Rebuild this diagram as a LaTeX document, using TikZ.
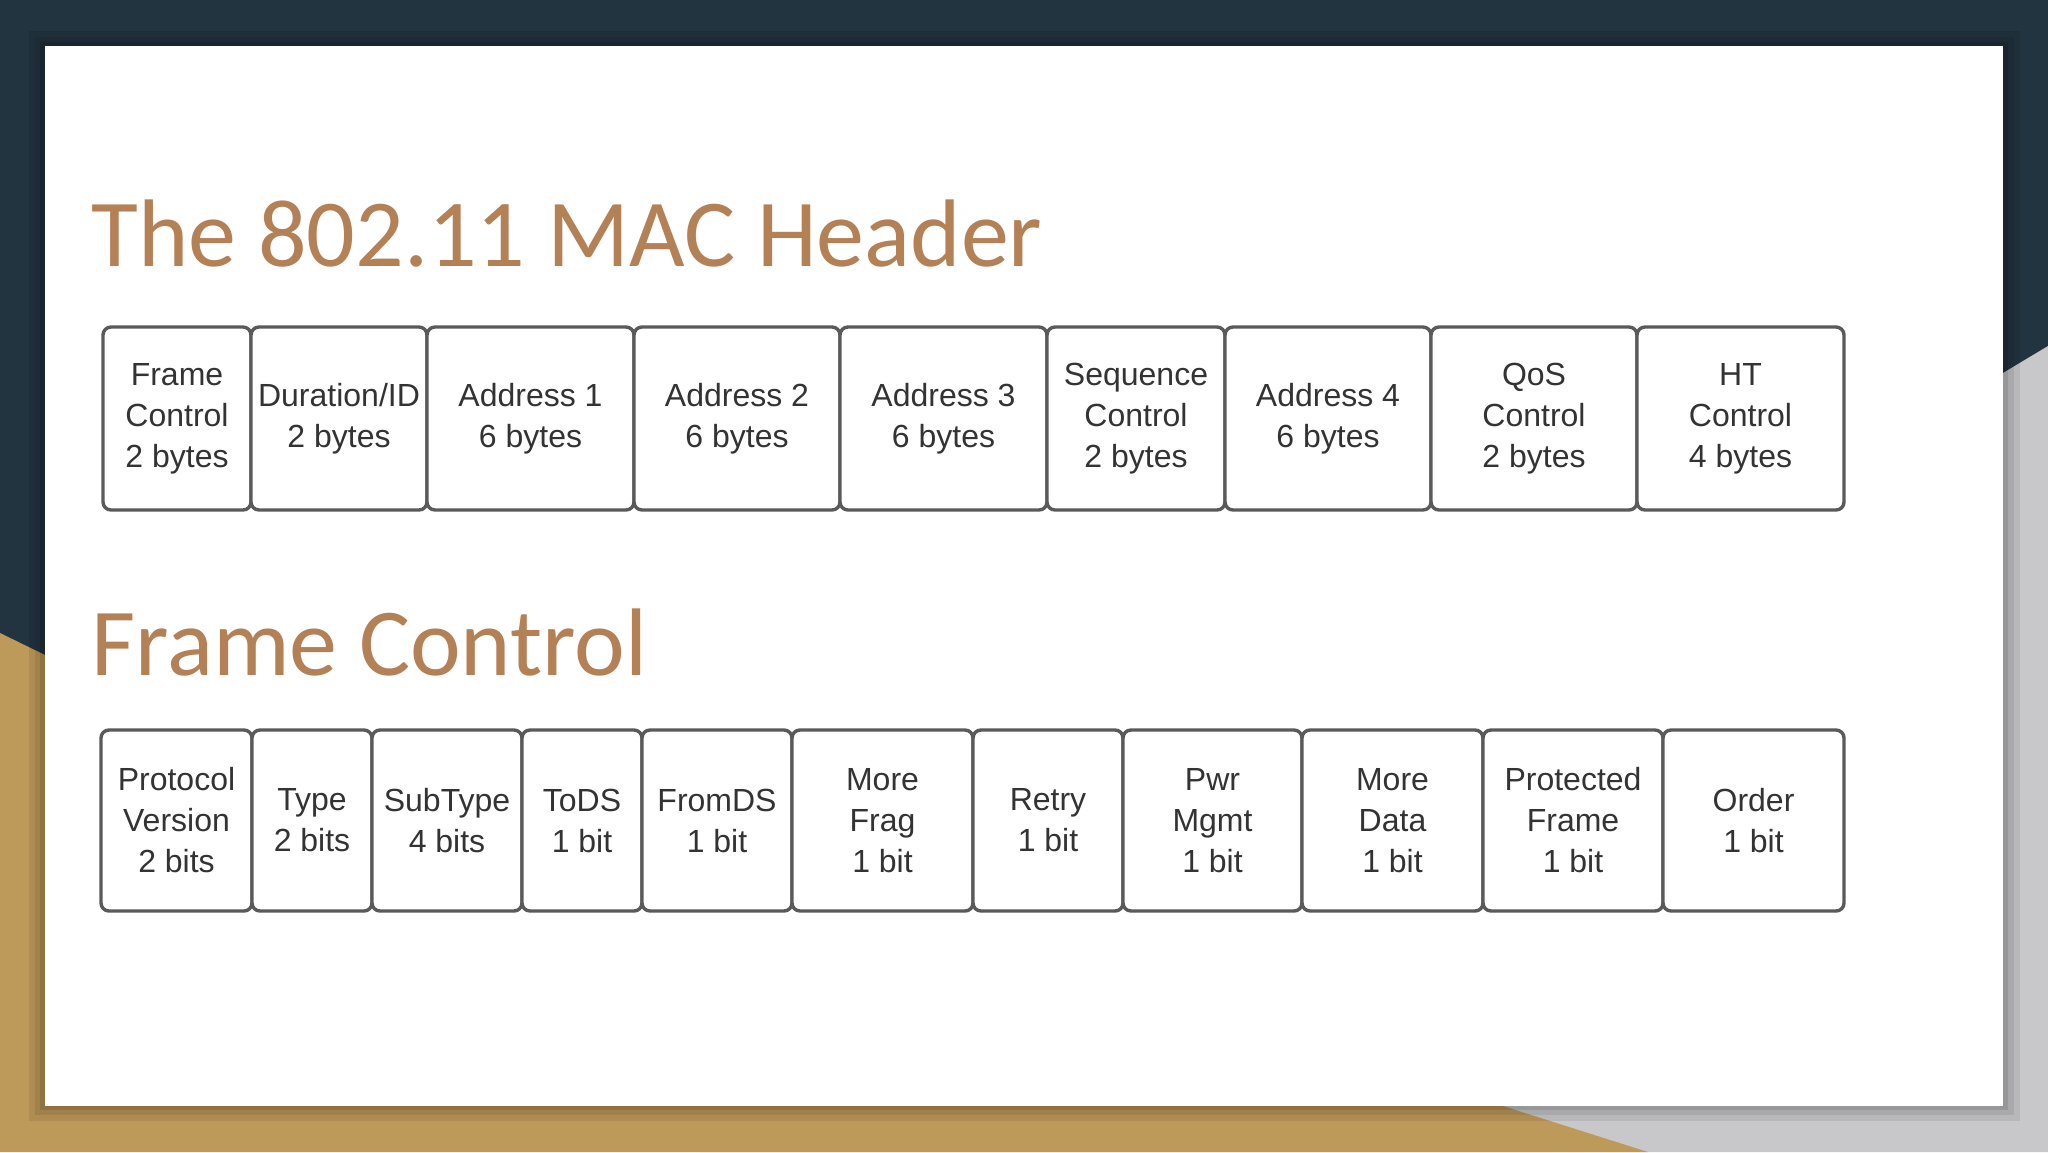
\documentclass[tikz,border=0pt]{standalone}
\usepackage{fontspec}
\setmainfont{Carlito}
\newfontfamily\boxfont{Liberation Sans}
\usetikzlibrary{positioning}
\definecolor{navy}{RGB}{34,52,64}
\definecolor{gold}{RGB}{190,154,90}
\definecolor{ltgrey}{RGB}{200,200,202}
\definecolor{titlebrown}{RGB}{180,128,85}
\definecolor{boxline}{RGB}{90,90,90}
\definecolor{boxtext}{RGB}{51,51,51}

\begin{document}
\begin{tikzpicture}[x=0.5pt,y=-0.5pt,node distance=0pt]
  \tikzstyle{field}=[draw=boxline, line width=1.7pt, rounded corners=4pt,
    fill=white, outer sep=0pt, inner sep=0pt, align=center, text=boxtext,
    font=\boxfont\fontsize{16}{20.5}\selectfont]
  \tikzstyle{hdr}=[field, minimum height=91.5pt]
  \tikzstyle{bits}=[field, minimum height=90.5pt]
  \tikzstyle{heading}=[anchor=base west, inner sep=0pt, text=titlebrown,
    font=\fontsize{48}{48}\selectfont]
  \useasboundingbox (0,0) rectangle (2048,1152);
  % slide background
  \fill[navy] (0,0) rectangle (2048,1152);
  \fill[ltgrey] (2048,346) -- (2003,373) -- (700,1152) -- (2048,1152) -- cycle;
  \fill[gold] (0,633) -- (45,655) -- (1503,1106) -- (1648,1152) -- (0,1152) -- cycle;
  \fill[black, opacity=0.08] (29,31) rectangle (2020,1121);
  \fill[black, opacity=0.08] (35,37) rectangle (2014,1115);
  \fill[black, opacity=0.1] (40,42) rectangle (2008,1110);
  \fill[white] (45,46) rectangle (2003,1106);

  \node[heading] (title) at (91,266) {The 802.11 MAC Header};
  \node[heading] (fctitle) at (91,675) {Frame Control};

  % MAC header fields
  \node[hdr, minimum width=74pt, anchor=north west] (fc) at (103,327) {Frame\\Control\\2 bytes};
  \node[hdr, minimum width=88pt, right=of fc] (dur) {Duration/ID\\2 bytes};
  \node[hdr, minimum width=103.5pt, right=of dur] (addr1) {Address 1\\6 bytes};
  \node[hdr, minimum width=103pt, right=of addr1] (addr2) {Address 2\\6 bytes};
  \node[hdr, minimum width=103.5pt, right=of addr2] (addr3) {Address 3\\6 bytes};
  \node[hdr, minimum width=89pt, right=of addr3] (seq) {Sequence\\Control\\2 bytes};
  \node[hdr, minimum width=103pt, right=of seq] (addr4) {Address 4\\6 bytes};
  \node[hdr, minimum width=103pt, right=of addr4] (qos) {QoS\\Control\\2 bytes};
  \node[hdr, minimum width=103.5pt, right=of qos] (ht) {HT\\Control\\4 bytes};

  % frame control bits
  \node[bits, minimum width=75.5pt, anchor=north west] (pv) at (101,730) {Protocol\\Version\\2 bits};
  \node[bits, minimum width=60pt, right=of pv] (type) {Type\\2 bits};
  \node[bits, minimum width=75pt, right=of type] (subtype) {SubType\\4 bits};
  \node[bits, minimum width=60pt, right=of subtype] (tods) {ToDS\\1 bit};
  \node[bits, minimum width=75pt, right=of tods] (fromds) {FromDS\\1 bit};
  \node[bits, minimum width=90.5pt, right=of fromds] (morefrag) {More\\Frag\\1 bit};
  \node[bits, minimum width=75pt, right=of morefrag] (retry) {Retry\\1 bit};
  \node[bits, minimum width=89.5pt, right=of retry] (pwr) {Pwr\\Mgmt\\1 bit};
  \node[bits, minimum width=90.5pt, right=of pwr] (moredata) {More\\Data\\1 bit};
  \node[bits, minimum width=90pt, right=of moredata] (prot) {Protected\\Frame\\1 bit};
  \node[bits, minimum width=90.5pt, right=of prot] (order) {Order\\1 bit};
\end{tikzpicture}
\end{document}
